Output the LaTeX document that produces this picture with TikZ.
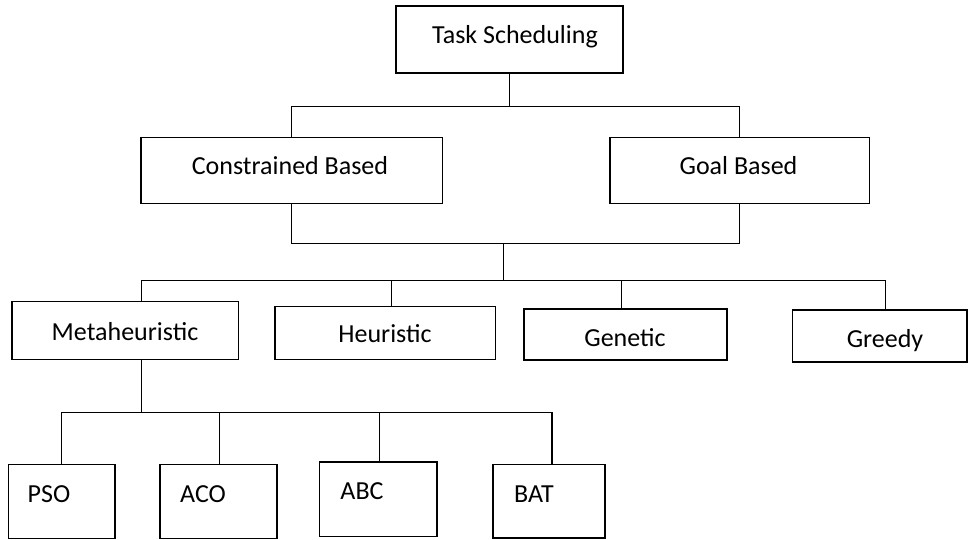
\documentclass[tikz,border=0pt]{standalone}
\usepackage{fontspec}
\setmainfont{Carlito}
\begin{document}
\begin{tikzpicture}[x=1pt,y=-1pt,
  box/.style={draw=black,line width=1.5pt,rectangle,inner sep=0pt,outer sep=0pt},
  txt/.style={anchor=base,inner sep=0pt,font=\fontsize{26}{30}\selectfont},
  conn/.style={draw=black,line width=1.5pt}]
\useasboundingbox[fill=white] (0,0) rectangle (969,540);
% boxes
\node[box,minimum width=227pt,minimum height=67pt] (top) at (509.5,39.5) {};
\node[box,minimum width=301.3pt,minimum height=65.6pt] (cb) at (291.65,170.5) {};
\node[box,minimum width=259.3pt,minimum height=65.6pt] (gb) at (739.65,170.5) {};
\node[box,minimum width=226.7pt,minimum height=57.8pt] (meta) at (125.35,330.6) {};
\node[box,minimum width=220.7pt,minimum height=52.8pt] (heur) at (385.35,333.1) {};
\node[box,minimum width=203pt,minimum height=51pt] (gen) at (625.5,334.5) {};
\node[box,minimum width=174.3pt,minimum height=52pt] (greedy) at (879.85,336) {};
\node[box,minimum width=106.5pt,minimum height=74pt] (pso) at (61.75,501.5) {};
\node[box,minimum width=117pt,minimum height=74pt] (aco) at (218.5,501.5) {};
\node[box,minimum width=117.2pt,minimum height=74.5pt] (abc) at (378.2,499.25) {};
\node[box,minimum width=112pt,minimum height=73.5pt] (bat) at (549,501.25) {};
% texts
\node[txt] (ttop) at (515,43.5) {Task Scheduling};
\node[txt] (tcb) at (290,175) {Constrained Based};
\node[txt] (tgb) at (738.5,175) {Goal Based};
\node[txt] (tmeta) at (125,340) {Metaheuristic};
\node[txt] (theur) at (385,342) {Heuristic};
\node[txt] (tgen) at (625,346) {Genetic};
\node[txt] (tgreedy) at (885,347) {Greedy};
\node[txt] (tpso) at (49,502) {PSO};
\node[txt] (taco) at (203,502) {ACO};
\node[txt] (tabc) at (362,499) {ABC};
\node[txt] (tbat) at (534,502) {BAT};
% level 1 connectors
\coordinate (b0) at (509.3,106.7);
\draw[conn] (top.south) -- (top.south |- b0);
\draw[conn] (cb.north) |- (b0) -| (gb.north);
% level 2 join
\coordinate (j2) at (503.3,243.3);
\draw[conn] (cb.south) |- (j2) -| (gb.south);
\coordinate (bL) at (141.4,280.5);
\coordinate (bR) at (885.7,280.5);
\draw[conn] (j2) -- (j2 |- bL);
\draw[conn] (bL) -- (bR);
\draw[conn] (bL) -- (bL |- meta.north);
\coordinate (xh) at (391.7,280.5);
\draw[conn] (xh) -- (xh |- heur.north);
\coordinate (xg) at (621.7,280.5);
\draw[conn] (xg) -- (xg |- gen.north);
\draw[conn] (bR) -- (bR |- greedy.north);
% level 3
\coordinate (c3) at (141.4,412.3);
\draw[conn] (meta.south -| c3) -- (c3);
\coordinate (cL) at (61.4,412.3);
\coordinate (cR) at (551.8,412.3);
\draw[conn] (cL) -- (cR);
\draw[conn] (cL) -- (cL |- pso.north);
\coordinate (xa) at (219.3,412.3);
\draw[conn] (xa) -- (xa |- aco.north);
\coordinate (xb) at (379.3,412.3);
\draw[conn] (xb) -- (xb |- abc.north);
\draw[conn] (cR) -- (cR |- bat.north);
\end{tikzpicture}
\end{document}
